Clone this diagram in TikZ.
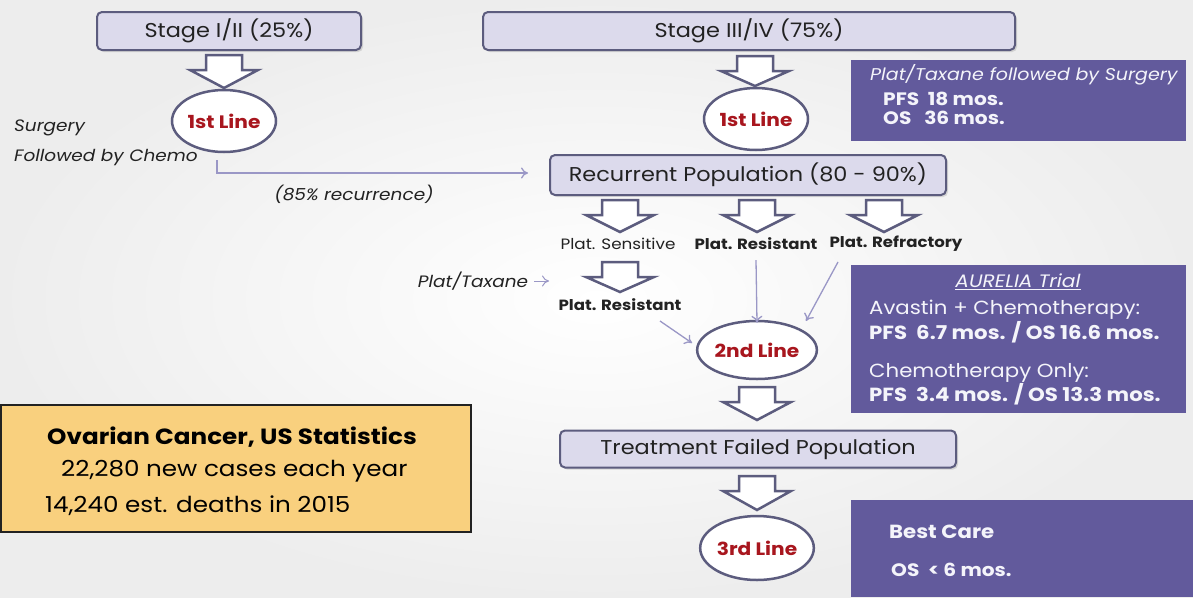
\documentclass[tikz,border=0pt]{standalone}
\usepackage{fontspec}
\setmainfont{Poppins}[FakeStretch=1.12]
\usetikzlibrary{shapes.geometric,arrows.meta,shadows}
\definecolor{boxfill}{HTML}{DCDAEC}
\definecolor{boxline}{HTML}{5C5C7E}
\definecolor{redtxt}{HTML}{A8161E}
\definecolor{thinc}{HTML}{9A97C6}
\definecolor{bluebox}{HTML}{625A9C}
\definecolor{yellowbox}{HTML}{F9D07E}
\definecolor{txt}{HTML}{222222}
\definecolor{wtxt}{HTML}{F4F4FA}
\tikzset{
 rbox/.style={draw=boxline, fill=boxfill, line width=2pt, rounded corners=5pt, inner sep=0pt,
   font=\fontsize{20}{23}\selectfont, text=txt,
   drop shadow={opacity=0.25, shadow xshift=2pt, shadow yshift=-2pt}},
 lineell/.style={ellipse, draw=boxline, line width=2.5pt, fill=white, inner sep=0pt,
   minimum width=104pt, minimum height=62pt, font=\bfseries\fontsize{18}{21}\selectfont, text=redtxt},
 barrow/.style={draw=boxline, line width=2.5pt, fill=white, line join=miter},
 tarrow/.style={draw=thinc, line width=1.3pt, -{To[length=7pt,width=11pt]}},
 bbox/.style={fill=bluebox},
 lbl/.style={font=\fontsize{15}{18}\selectfont, text=txt, inner sep=0pt},
 blbl/.style={font=\bfseries\fontsize{14.8}{18}\selectfont, text=txt, inner sep=0pt},
 itl/.style={font=\itshape\fontsize{16.5}{19}\selectfont, text=txt, inner sep=0pt},
 wt/.style={text=wtxt, inner sep=0pt, anchor=west},
}
\newcommand\blockarr[3]{%
 \draw[barrow] ({#1-18},#2) -- ({#1+18},#2) -- ({#1+18},{#2+15}) -- ({#1+34},{#2+15}) -- (#1,#3) -- ({#1-34},{#2+15}) -- ({#1-18},{#2+15}) -- cycle;}
\begin{document}
\begin{tikzpicture}[x=1pt,y=-1pt]
\useasboundingbox (0,0) rectangle (1193,597);
\shade[inner color=white, outer color=gray!14] (0,0) rectangle (1193,597);

% top boxes
\node[rbox, minimum width=264pt, minimum height=38pt] (s12) at (229,31) {Stage I/II (25\%)};
\node[rbox, minimum width=532pt, minimum height=38pt] (s34) at (749,31) {Stage III/IV (75\%)};

% block arrows to 1st line
\blockarr{224}{55}{88}
\blockarr{755}{56}{86}

\node[lineell] (e1) at (224,121) {1st Line};
\node[lineell] (e1b) at (756,119) {1st Line};

% left text
\node[itl, anchor=west] (surg) at (14,128) {Surgery};
\node[itl, anchor=west] (fbc) at (14,158) {Followed by Chemo};

% recurrent
\node[rbox, minimum width=396pt, minimum height=40pt] (rec) at (748,175) {Recurrent Population (80 - 90\%)};
\coordinate (c1) at (217,160);
\draw[tarrow] (c1) |- ([xshift=-21pt,yshift=2pt]rec.west);
\node[itl] (rec85) at (354,194) {(85\% recurrence)};

% top right blue box
\fill[bbox] (851,60) rectangle (1186,141);
\node[wt, font=\itshape\fontsize{17}{20}\selectfont] (ptx) at (870,75) {Plat/Taxane followed by Surgery};
\node[wt, font=\bfseries\fontsize{18}{21}\selectfont] (pfs1) at (883,99) {PFS\ \ 18 mos.};
\node[wt, font=\bfseries\fontsize{18}{21}\selectfont] (os1) at (883,118) {OS\ \ \ 36 mos.};

% three branches
\blockarr{620}{200}{232}
\blockarr{757}{200}{232}
\blockarr{884}{200}{232}
\node[lbl] (ps) at (618,244) {Plat. Sensitive};
\node[blbl] (pr) at (756,244) {Plat. Resistant};
\node[blbl] (pf) at (896,244) {Plat. Refractory};

\node[itl] (tax) at (473,281) {Plat/Taxane};
\coordinate (taxend) at (549,281);
\draw[tarrow, line width=1pt] ([xshift=6pt]tax.east) -- (taxend);
\blockarr{620}{262}{292}
\node[blbl] (pr2) at (620,305) {Plat. Resistant};

\node[lineell, minimum width=102pt, minimum height=58pt] (e2) at (757,350) {2nd Line};
\coordinate (a1) at (660,321);
\coordinate (a2) at (692,343);
\draw[tarrow] (a1) -- (a2);
\draw[tarrow] ([yshift=-10pt]pr.south) -- ([yshift=-3pt]e2.north);
\coordinate (r1) at (838,262);
\coordinate (r2) at (806,321);
\draw[tarrow] (r1) -- (r2);

% AURELIA box
\fill[bbox] (851,265) rectangle (1186,413);
\node[text=wtxt, inner sep=0pt, font=\itshape\fontsize{18}{21}\selectfont] (aur) at (1018,282) {\underline{AURELIA Trial}};
\node[wt, font=\fontsize{19}{22}\selectfont] (av) at (869,310) {Avastin + Chemotherapy:};
\node[wt, font=\bfseries\fontsize{19}{22}\selectfont] (av2) at (869,332) {PFS\ \ 6.7 mos. / OS 16.6 mos.};
\node[wt, font=\fontsize{19}{22}\selectfont] (co) at (869,373) {Chemotherapy Only:};
\node[wt, font=\bfseries\fontsize{19}{22}\selectfont] (co2) at (869,394) {PFS\ \ 3.4 mos. / OS 13.3 mos.};

% treatment failed
\blockarr{757}{387}{420}
\node[rbox, minimum width=396pt, minimum height=37pt] (tf) at (758,449) {Treatment Failed Population};
\blockarr{757}{476}{510}
\node[lineell, minimum width=102pt, minimum height=64pt] (e3) at (757,548) {3rd Line};

% best care
\fill[bbox] (851,500) rectangle (1193,597);
\node[wt, font=\bfseries\fontsize{19}{22}\selectfont] (bc) at (889,532) {Best Care};
\node[wt, font=\bfseries\fontsize{18}{21}\selectfont] (os3) at (891,570) {OS\ \ < 6 mos.};

% yellow stats box
\filldraw[fill=yellowbox, draw=txt, line width=1.5pt] (1,405) rectangle (471,532);
\node[font=\bfseries\fontsize{22}{26}\selectfont, text=black, inner sep=0pt] (ov) at (232,437) {Ovarian Cancer, US Statistics};
\node[font=\fontsize{22}{26}\selectfont, text=black, inner sep=0pt, anchor=west] (nc) at (61,471) {22,280 new cases each year};
\node[font=\fontsize{22}{26}\selectfont, text=black, inner sep=0pt, anchor=west] (ed) at (45,506) {14,240 est. deaths in 2015};
\end{tikzpicture}
\end{document}
